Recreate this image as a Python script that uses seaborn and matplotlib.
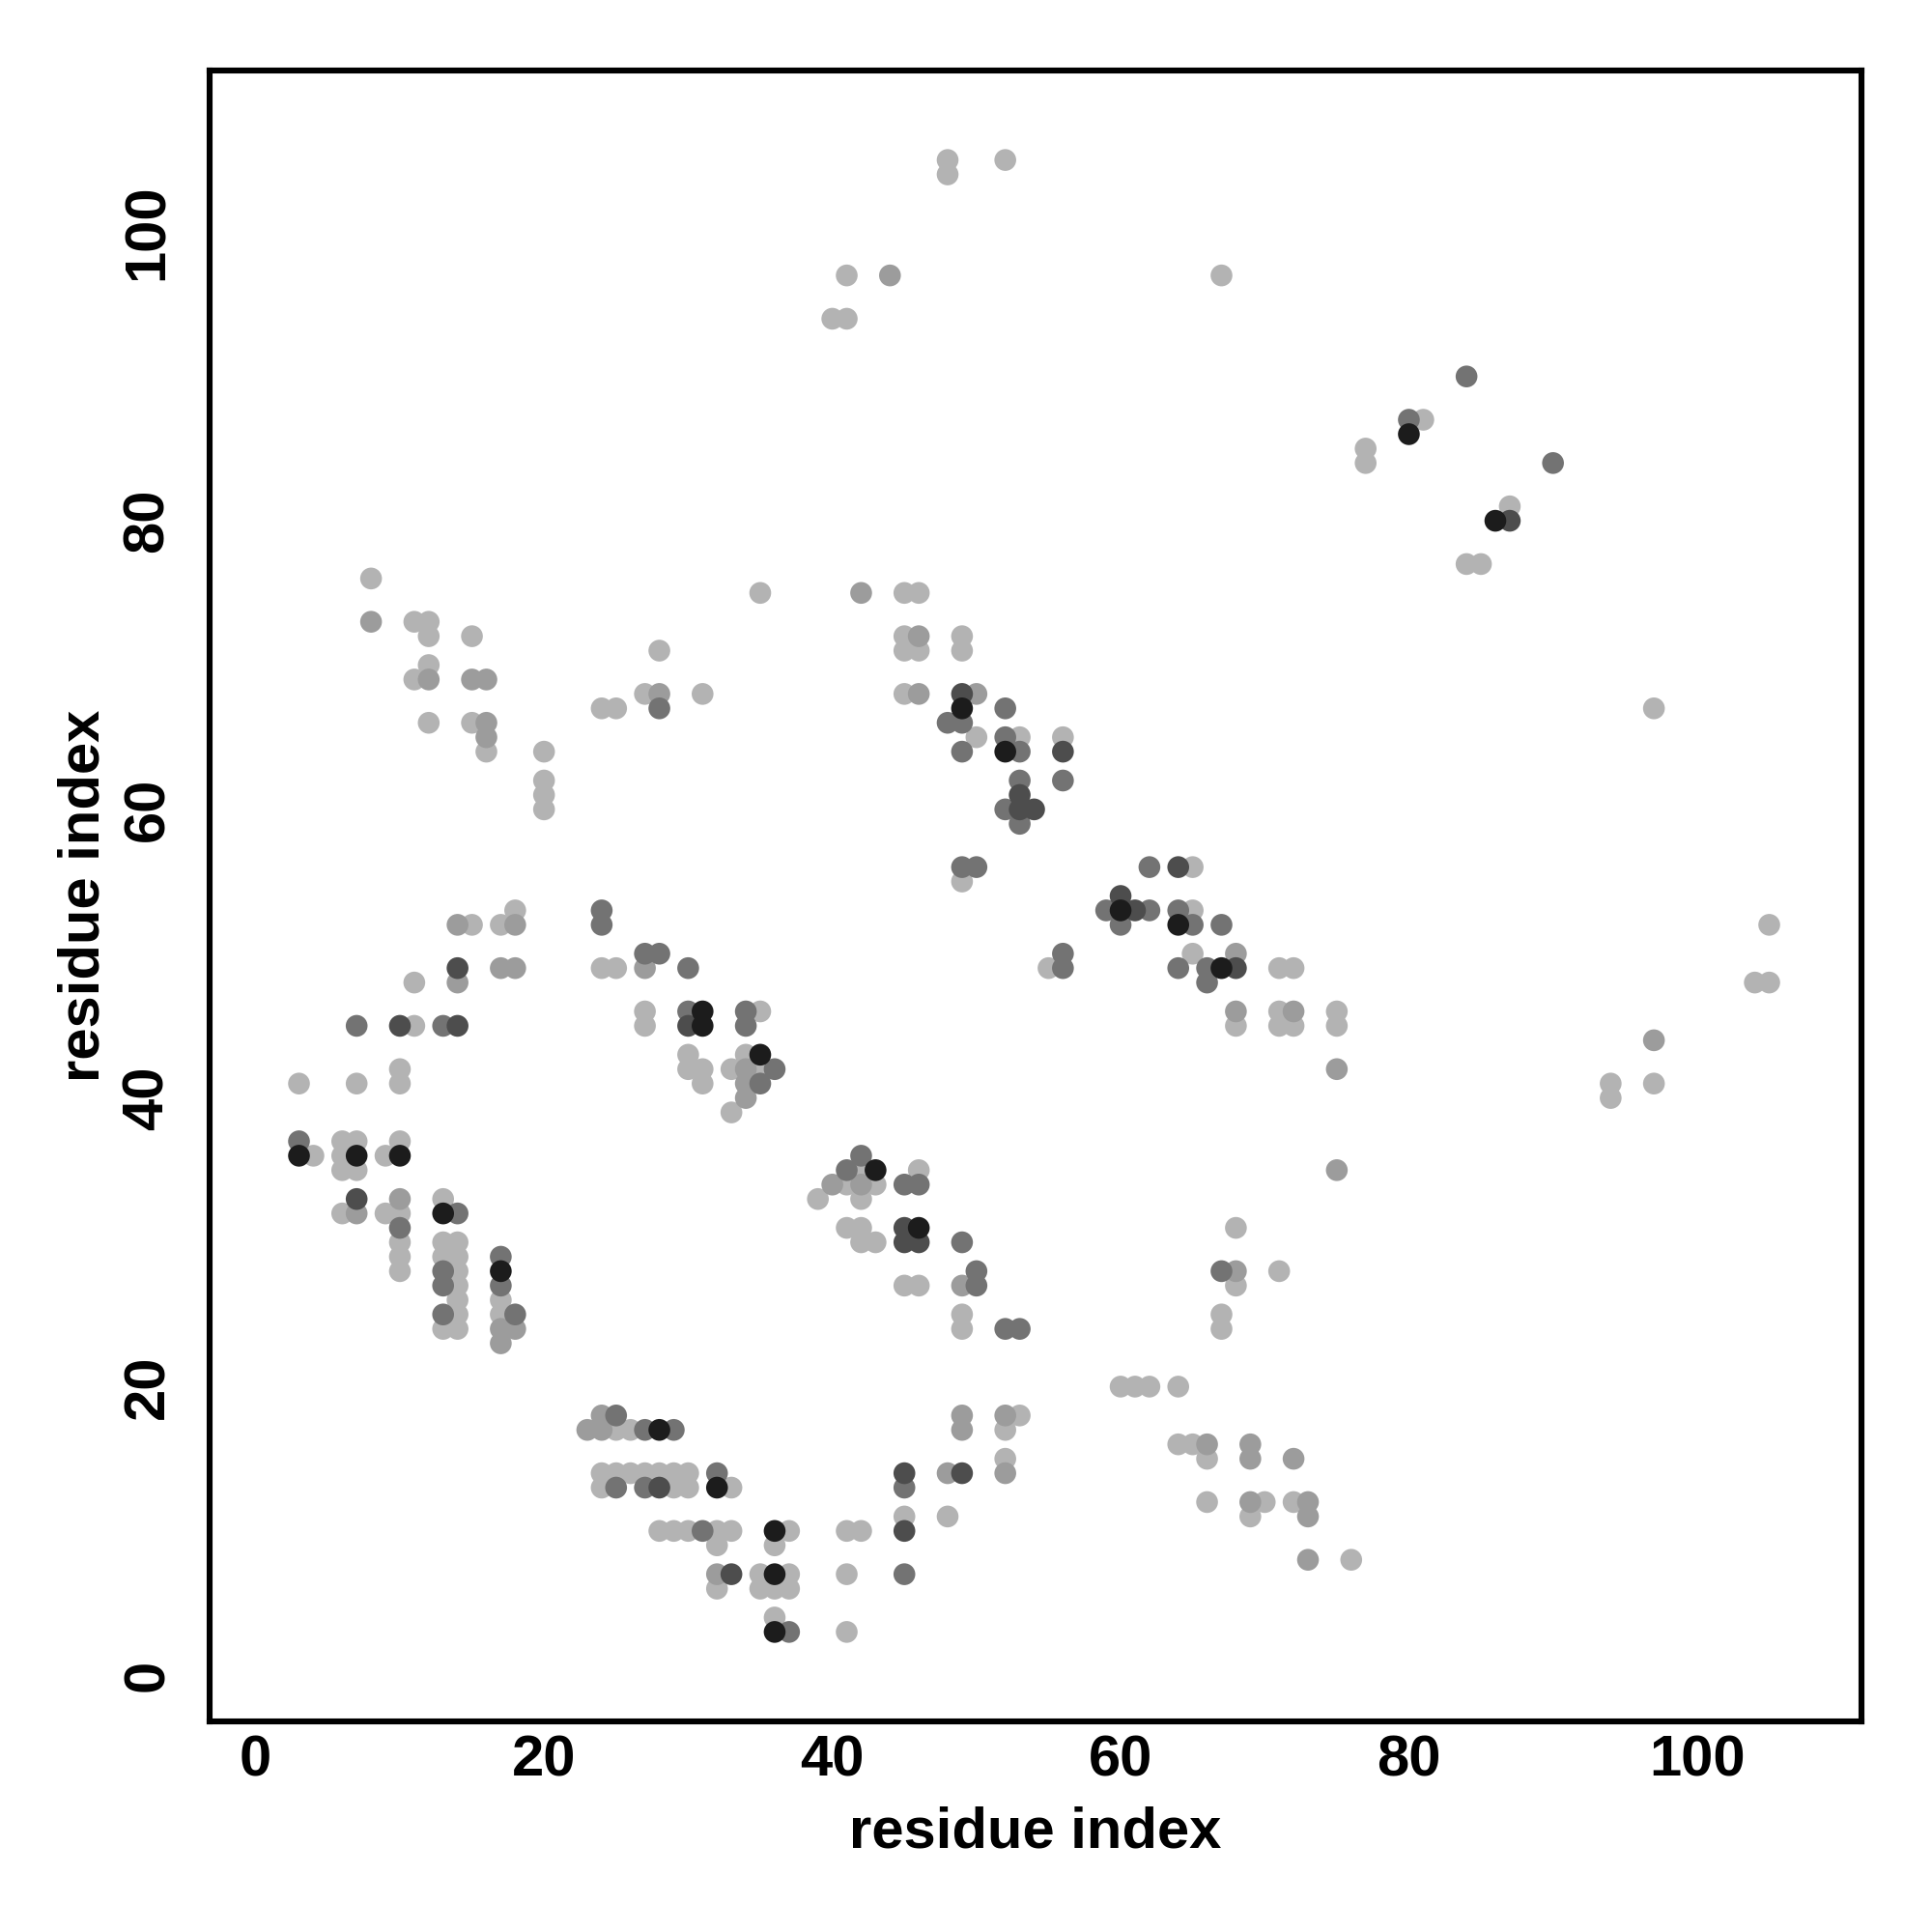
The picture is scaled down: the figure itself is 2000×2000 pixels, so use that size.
import numpy as np
import pandas as pd
import matplotlib
matplotlib.use("Agg")
import matplotlib.pyplot as plt
import seaborn as sns

# contact map points, grouped by grey shade (light -> black)
light_i = [48, 48, 52, 41, 67, 40, 41,
           81, 77, 77, 87, 84, 85,
           8, 11, 12, 12, 15, 12, 11, 12, 15, 16, 20, 20, 20, 20,
           28, 27, 24, 25, 31, 35,
           45, 46, 45, 45, 46, 45, 49, 49,
           50, 53, 56, 49,
           55, 65, 65, 65, 71, 72, 68, 71, 71, 72, 75, 75,
           97, 105, 104, 105, 94, 97, 94,
           15, 17, 18, 11, 11, 3, 7, 10, 10,
           24, 25, 27, 27, 35, 30, 30, 31, 31, 34, 33, 35, 33,
           4, 6, 7, 6, 6, 7, 10, 9, 6, 9, 10, 10, 10, 10,
           13, 13, 14, 13, 14, 14, 14, 14, 14, 13, 14,
           17, 17,
           39, 41, 42, 42, 43, 46, 41, 42, 42, 43, 45, 46, 49, 49,
           25, 26, 24, 25, 26, 27, 28, 29, 30, 24, 29, 30, 33,
           28, 29, 30, 32, 33, 32, 37, 36, 32, 35, 37, 35, 36, 37, 36,
           41, 42, 41, 41, 45, 48, 53, 52, 52,
           68, 71, 68, 67, 67, 60, 61, 62, 64, 64, 65, 66, 66, 70, 69, 72, 76]
light_j = [105, 104, 105, 97, 97, 94, 94,
           87, 85, 84, 81, 77, 77,
           76, 73, 73, 72, 72, 70, 69, 66, 66, 64, 64, 62, 61, 60,
           71, 68, 67, 67, 68, 75,
           75, 75, 72, 71, 71, 68, 72, 71,
           65, 65, 65, 55,
           49, 56, 53, 50, 49, 49, 45, 46, 45, 45, 46, 45,
           67, 52, 48, 48, 41, 41, 40,
           52, 52, 53, 48, 45, 41, 41, 42, 41,
           49, 49, 46, 45, 46, 43, 42, 42, 41, 43, 42, 42, 39,
           36, 37, 37, 36, 35, 35, 37, 36, 32, 32, 32, 30, 29, 28,
           33, 30, 30, 29, 29, 28, 27, 26, 25, 24, 24,
           26, 25,
           33, 34, 35, 33, 34, 35, 31, 31, 30, 30, 27, 27, 25, 24,
           17, 17, 14, 14, 14, 14, 14, 14, 14, 13, 13, 13, 13,
           10, 10, 10, 10, 10, 9, 10, 9, 6, 7, 7, 6, 6, 6, 4,
           10, 10, 7, 3, 11, 11, 18, 17, 15,
           31, 28, 27, 25, 24, 20, 20, 20, 20, 16, 16, 15, 12, 12, 11, 12, 8]

medium_i = [44, 8, 12, 15, 16, 16, 16, 28, 42, 46, 46, 50, 68, 68, 72, 75, 75, 97,
            14, 18, 14, 17, 18, 27, 34, 34, 34, 7, 10, 17, 18, 17, 40, 42, 49,
            23, 24, 24, 48, 32, 49, 49, 52, 52, 68, 66, 69, 69, 72, 69, 73, 73, 73]
medium_j = [97, 73, 69, 69, 69, 66, 65, 68, 75, 72, 68, 68, 50, 46, 46, 42, 35, 44,
            52, 52, 48, 49, 49, 49, 42, 41, 40, 32, 33, 24, 24, 23, 34, 34, 27,
            17, 17, 18, 14, 7, 18, 17, 18, 14, 28, 16, 16, 15, 15, 12, 12, 11, 8]

dark_i = [84, 80, 90, 28, 48, 49, 49, 52, 52, 53, 53, 56, 52, 53, 49, 50, 56, 56,
          59, 62, 60, 62, 64, 65, 67, 64, 66, 66, 7, 13, 24, 24, 27, 28, 30, 30,
          34, 34, 36, 35, 3, 14, 10, 13, 13, 13, 17, 17, 18, 41, 42, 45, 46, 49,
          50, 50, 52, 53, 25, 27, 29, 32, 25, 27, 31, 37, 45, 45, 67]
dark_j = [90, 87, 84, 67, 66, 66, 64, 67, 65, 64, 62, 62, 60, 59, 56, 56, 50, 49,
          53, 53, 52, 56, 53, 52, 52, 49, 49, 48, 45, 45, 53, 52, 50, 50, 49, 46,
          46, 45, 42, 41, 37, 32, 31, 28, 27, 25, 29, 27, 25, 35, 36, 34, 34, 30,
          28, 27, 24, 24, 18, 17, 17, 14, 13, 13, 10, 3, 13, 7, 28]

darker_i = [87, 49, 56, 53, 53, 54, 60, 61, 64, 68, 14, 10, 14, 30, 7,
            45, 45, 46, 28, 33, 45, 49, 45]
darker_j = [80, 68, 64, 61, 60, 60, 54, 53, 56, 49, 49, 45, 45, 45, 33,
            31, 30, 30, 13, 7, 14, 14, 10]

black_i = [80, 86, 49, 52, 60, 64, 67, 31, 31, 35, 3, 7, 10, 17, 13,
           43, 46, 28, 32, 36, 36, 36]
black_j = [86, 80, 67, 64, 53, 52, 49, 46, 45, 43, 36, 36, 36, 28, 32,
           35, 31, 17, 13, 10, 7, 3]

shade_colors = {"light": "#b3b3b3", "medium": "#9c9c9c", "dark": "#737373",
                "darker": "#4d4d4d", "black": "#1c1c1c"}

parts = []
for name, ii, jj in [("light", light_i, light_j), ("medium", medium_i, medium_j),
                     ("dark", dark_i, dark_j), ("darker", darker_i, darker_j),
                     ("black", black_i, black_j)]:
    parts.append(pd.DataFrame({"i": ii, "j": jj, "shade": name}))
df = pd.concat(parts, ignore_index=True)

sns.set_style("white")
plt.rcParams['font.family'] = ['Liberation Sans', 'DejaVu Sans']
plt.rcParams['font.weight'] = 'bold'
plt.rcParams['text.color'] = 'black'
plt.rcParams['axes.labelcolor'] = 'black'
plt.rcParams['xtick.color'] = 'black'
plt.rcParams['ytick.color'] = 'black'

fig = plt.figure(figsize=(10, 10), dpi=200)
ax = fig.add_axes([0.1085, 0.109, 0.855, 0.8545])

sns.scatterplot(data=df, x="i", y="j", hue="shade", palette=shade_colors,
                hue_order=list(shade_colors.keys()), s=66, linewidth=0,
                legend=False, ax=ax)

ax.set_xlim(-3.2, 111.4)
ax.set_ylim(-3.2, 111.2)
ax.set_xticks([0, 20, 40, 60, 80, 100])
ax.set_yticks([0, 20, 40, 60, 80, 100])

for sp in ax.spines.values():
    sp.set_visible(True)
    sp.set_color("black")
    sp.set_linewidth(2.2)

ax.tick_params(axis='both', direction='out', length=4, width=1.4, color='black',
               labelcolor='black', labelsize=21.5)
ax.tick_params(axis='x', pad=1)
ax.tick_params(axis='y', pad=9)
for lab in ax.get_xticklabels() + ax.get_yticklabels():
    lab.set_fontweight('bold')
plt.setp(ax.get_yticklabels(), rotation=90, va='center', ha='right')

ax.set_xlabel("residue index", fontsize=21.5, fontweight='bold', color='black')
ax.set_ylabel("residue index", fontsize=21.5, fontweight='bold', color='black')
ax.xaxis.set_label_coords(0.5, -0.051)
ax.xaxis.label.set_va('top')
ax.yaxis.set_label_coords(-0.060, 0.5)

fig.savefig("out.png", dpi=200)
